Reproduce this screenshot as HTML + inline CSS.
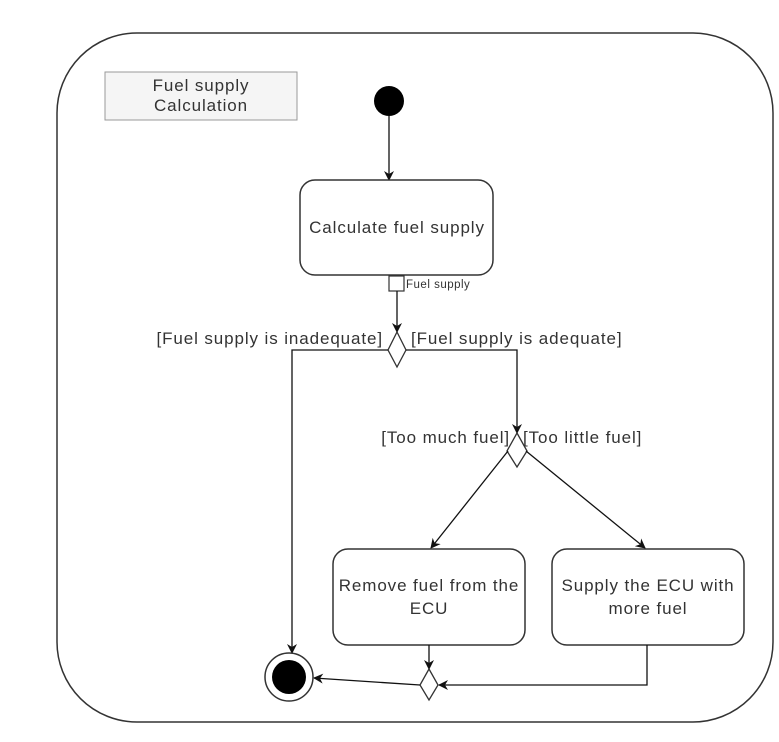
<!DOCTYPE html>
<html><head><style>
html,body{margin:0;padding:0;background:#fff;}
svg{display:block;}
text{font-family:"Liberation Sans",sans-serif;fill:#333;font-size:17px;letter-spacing:0.9px;}
</style></head><body>
<svg width="779" height="742" viewBox="0 0 779 742" xmlns="http://www.w3.org/2000/svg">
<defs>
<marker id="a" markerWidth="10" markerHeight="10" refX="9" refY="5" orient="auto" markerUnits="userSpaceOnUse">
<path d="M0,0 L10,5 L0,10 L3,5 Z" fill="#111"/>
</marker>
</defs>
<rect x="57" y="33" width="716" height="689" rx="80" ry="80" fill="#fff" stroke="#333" stroke-width="1.5"/>
<rect x="105" y="72" width="192" height="48" fill="#f5f5f5" stroke="#999" stroke-width="1"/>
<text x="201" y="91" text-anchor="middle">Fuel supply</text>
<text x="201" y="111" text-anchor="middle">Calculation</text>
<circle cx="389" cy="101" r="15" fill="#000"/>
<line x1="389" y1="116" x2="389" y2="180" stroke="#111" stroke-width="1.3" marker-end="url(#a)"/>
<rect x="300" y="180" width="193" height="95" rx="15" fill="#fff" stroke="#333" stroke-width="1.5"/>
<text x="397" y="233" text-anchor="middle">Calculate fuel supply</text>
<rect x="389" y="276" width="15" height="15" fill="#fff" stroke="#333" stroke-width="1.2"/>
<text x="406" y="288" style="font-size:11.5px;letter-spacing:0.5px">Fuel supply</text>
<line x1="397" y1="291" x2="397" y2="332" stroke="#111" stroke-width="1.3" marker-end="url(#a)"/>
<path d="M397,332 L406,350 L397,367 L388,350 Z" fill="#fff" stroke="#333" stroke-width="1.3"/>
<text x="383" y="344" text-anchor="end">[Fuel supply is inadequate]</text>
<text x="411" y="344">[Fuel supply is adequate]</text>
<polyline points="388,350 292,350 292,653" fill="none" stroke="#111" stroke-width="1.3" marker-end="url(#a)"/>
<polyline points="406,350 517,350 517,433" fill="none" stroke="#111" stroke-width="1.3" marker-end="url(#a)"/>
<path d="M517,433 L527,451 L517,467 L507,451 Z" fill="#fff" stroke="#333" stroke-width="1.3"/>
<text x="510" y="443" text-anchor="end">[Too much fuel]</text>
<text x="523" y="443">[Too little fuel]</text>
<line x1="508" y1="451" x2="431" y2="548" stroke="#111" stroke-width="1.3" marker-end="url(#a)"/>
<line x1="526" y1="451" x2="645" y2="548" stroke="#111" stroke-width="1.3" marker-end="url(#a)"/>
<rect x="333" y="549" width="192" height="96" rx="15" fill="#fff" stroke="#333" stroke-width="1.5"/>
<text x="429" y="591" text-anchor="middle">Remove fuel from the</text>
<text x="429" y="614" text-anchor="middle">ECU</text>
<rect x="552" y="549" width="192" height="96" rx="15" fill="#fff" stroke="#333" stroke-width="1.5"/>
<text x="648" y="591" text-anchor="middle">Supply the ECU with</text>
<text x="648" y="614" text-anchor="middle">more fuel</text>
<line x1="429" y1="645" x2="429" y2="669" stroke="#111" stroke-width="1.3" marker-end="url(#a)"/>
<path d="M429,669 L438,685 L429,700 L420,685 Z" fill="#fff" stroke="#333" stroke-width="1.3"/>
<polyline points="647,645 647,685 439,685" fill="none" stroke="#111" stroke-width="1.3" marker-end="url(#a)"/>
<line x1="420" y1="685" x2="314" y2="678" stroke="#111" stroke-width="1.3" marker-end="url(#a)"/>
<circle cx="289" cy="677" r="24" fill="#fff" stroke="#333" stroke-width="1.5"/>
<circle cx="289" cy="677" r="17" fill="#000"/>
</svg>
</body></html>
